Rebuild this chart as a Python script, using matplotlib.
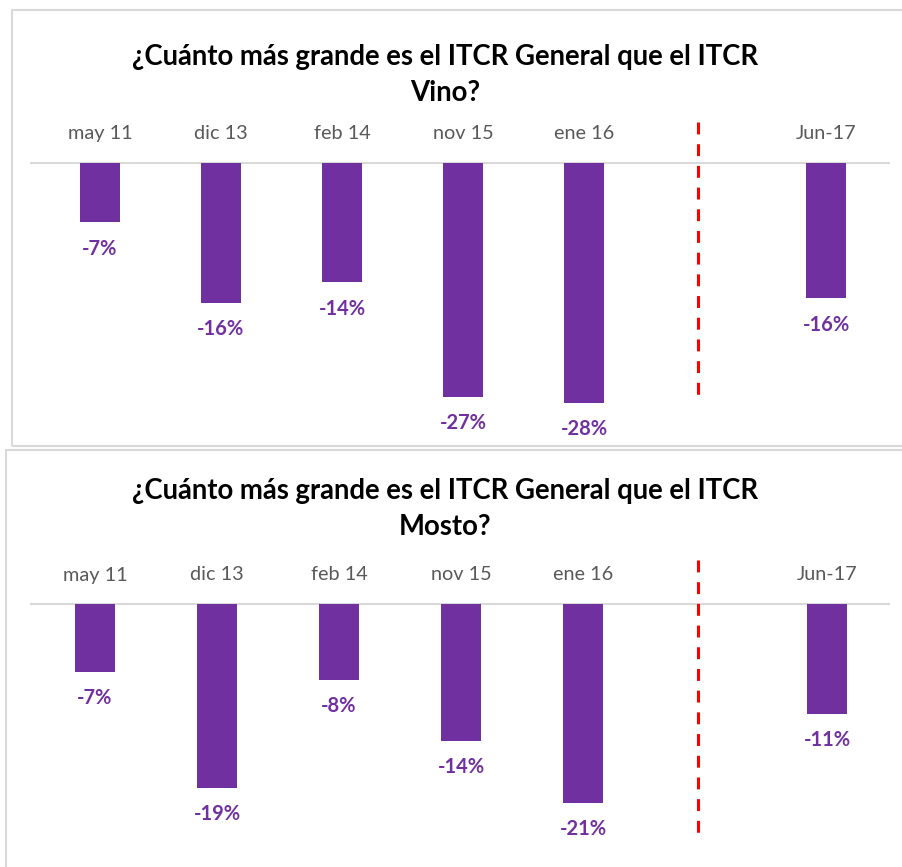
import matplotlib
matplotlib.use("Agg")
import matplotlib.pyplot as plt
from matplotlib.patches import Rectangle

categories = ["may 11", "dic 13", "feb 14", "nov 15", "ene 16", "", "Jun-17"]
vino = [-6.9, -16.3, -13.9, -27.3, -28.0, None, -15.8]
mosto = [-7.05, -19.07, -7.88, -14.2, -20.6, None, -11.4]
title_vino = "¿Cuánto más grande es el ITCR General que el ITCR\nVino?"
title_mosto = "¿Cuánto más grande es el ITCR General que el ITCR\nMosto?"

plt.rcParams['font.family'] = ['Lato', 'DejaVu Sans']

W, H = 902, 867
fig = plt.figure(figsize=(W / 100, H / 100), dpi=100)
PURPLE = "#7030A0"


def px_rect(x0, y0, x1, y1):
    return [x0 / W, 1 - y1 / H, (x1 - x0) / W, (y1 - y0) / H]


def panel(values, title, box, ax_px, base_y, scale, cx0, step, dash_px, title_y):
    bx0, by0, bx1, by1 = box
    fig.add_artist(Rectangle((bx0 / W, 1 - by1 / H), (bx1 - bx0) / W, (by1 - by0) / H,
                             transform=fig.transFigure, fill=False,
                             edgecolor="#D9D9D9", linewidth=1.5))
    ax0, ay0, ax1, ay1 = ax_px
    ax = fig.add_axes(px_rect(ax0, ay0, ax1, ay1))
    ax.set_xlim((ax0 - cx0) / step, (ax1 - cx0) / step)
    ax.set_ylim(-(ay1 - base_y) / scale, (base_y - ay0) / scale)
    ax.axis("off")
    ax.axhline(0, color="#D9D9D9", linewidth=1.5, zorder=1)
    for x, (v, c) in enumerate(zip(values, categories)):
        if c:
            ax.text(x, 29 / scale, c, ha="center", va="center", fontsize=14.3,
                    color="#595959")
        if v is None:
            continue
        ax.bar(x, v, width=0.33, color=PURPLE, zorder=2)
        ax.annotate(f"{round(v)}%", (x, v), xytext=(0, -19), textcoords="offset points",
                    ha="center", va="center", fontsize=14.5, fontweight="bold",
                    color=PURPLE)
    d0, d1 = dash_px
    ax.plot([4.94, 4.94], [(base_y - d0) / scale, -(d1 - base_y) / scale],
            color="#FF0000", linewidth=2.2, linestyle=(0, (3.9, 3.2)), zorder=3)
    fig.text(445 / W, 1 - title_y / H, title, ha="center", va="center",
             fontsize=19.8, fontweight="bold", color="black", linespacing=1.45)


panel(vino, title_vino, (12, 10, 905, 446), (30, 112, 890, 440), 163, 8.57, 100, 121,
      (122, 400), 75)
panel(mosto, title_mosto, (6, 450, 905, 870), (30, 552, 890, 865), 604, 9.65, 95, 122,
      (560, 835), 509)

fig.savefig("out.png", dpi=100)
